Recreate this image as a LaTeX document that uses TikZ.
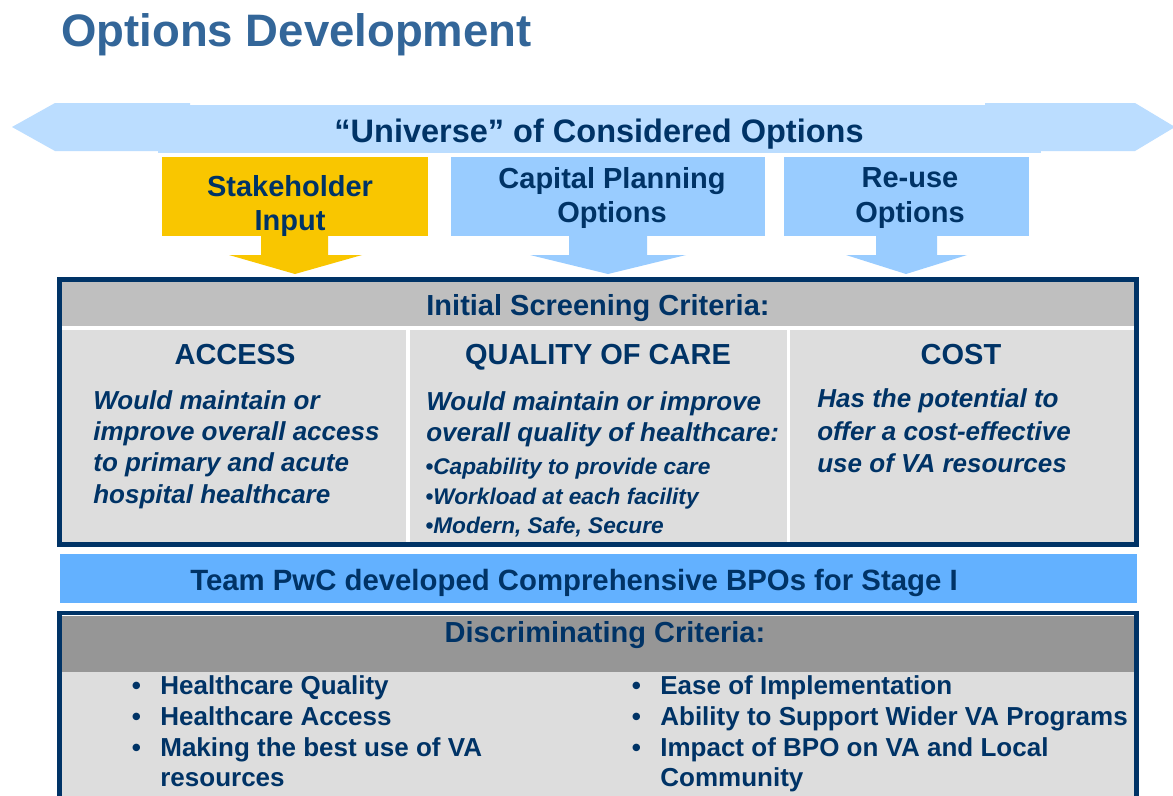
\documentclass[tikz,border=0pt]{standalone}
\usepackage{fontspec}
\setmainfont{Liberation Sans}
\usepackage{xcolor}
\usepackage{tikz}

\definecolor{navy}{RGB}{0,51,102}
\definecolor{titleblue}{RGB}{51,102,153}
\definecolor{bandblue}{RGB}{187,221,255}
\definecolor{optblue}{RGB}{153,204,255}
\definecolor{gold}{RGB}{249,198,0}
\definecolor{teamblue}{RGB}{99,177,255}
\definecolor{hdrgray}{RGB}{191,191,191}
\definecolor{cellgray}{RGB}{221,221,221}
\definecolor{discgray}{RGB}{150,150,150}

\newcommand{\critbullet}{\llap{\textbullet\hspace{11pt}}}

\begin{document}
\begin{tikzpicture}[x=0.02cm, y=-0.02cm,
    hdr/.style={font=\bfseries\fontsize{16.5}{19.8}\selectfont, text=navy, anchor=base, inner sep=0pt},
    crit/.style={font=\bfseries\itshape\fontsize{14.8}{17.8}\selectfont, text=navy, align=left, anchor=north west, inner sep=0pt},
    smallpts/.style={font=\bfseries\itshape\fontsize{12.9}{16.7}\selectfont, text=navy, align=left, anchor=north west, inner sep=0pt},
    item/.style={font=\bfseries\fontsize{14.8}{17.6}\selectfont, text=navy, align=left, anchor=north west, inner sep=0pt}]
    \clip (0,0) rectangle (1173,795);
    \fill[white] (0,0) rectangle (1173,795);

    % Title
    \node[font=\bfseries\fontsize{25.9}{30}\selectfont, text=titleblue, anchor=base west, inner sep=0pt] (title) at (61,46) {Options Development};

    % Universe band (two arrow ends and the middle strip)
    \fill[bandblue] (12,127) -- (55,103) -- (190,103) -- (190,151) -- (55,151) -- cycle;
    \fill[bandblue] (1175,127) -- (1135,103) -- (985,103) -- (985,151) -- (1135,151) -- cycle;
    \fill[bandblue] (158,105) rectangle (1041,153);
    \node[font=\bfseries\fontsize{18.5}{22}\selectfont, text=navy, anchor=base, inner sep=0pt] (universe) at (599,142) {“Universe” of Considered Options};

    % Stakeholder Input
    \fill[gold] (162,157) rectangle (428,236);
    \fill[gold] (261,235) -- (261,255) -- (229,255) -- (295,274) -- (362,255) -- (328,255) -- (328,235) -- cycle;
    \node[hdr, align=center, anchor=center] (stake) at (290,206) {Stakeholder\\Input};

    % Capital Planning Options
    \fill[optblue] (451,157) rectangle (765,236);
    \fill[optblue] (569,235) -- (569,255) -- (530,255) -- (608,274) -- (686,255) -- (647,255) -- (647,235) -- cycle;
    \node[hdr, align=center, anchor=center] (capital) at (612,198) {Capital Planning\\Options};

    % Re-use Options
    \fill[optblue] (784,157) rectangle (1029,236);
    \fill[optblue] (876,235) -- (876,255) -- (846,255) -- (906,274) -- (967,255) -- (937,255) -- (937,235) -- cycle;
    \node[hdr, align=center, anchor=center] (reuse) at (910,198) {Re-use\\Options};

    % Initial screening panel
    \fill[white] (59.5,279.5) rectangle (1136.5,544.5);
    \fill[hdrgray] (62,282) rectangle (1134,326);
    \fill[cellgray] (62,330) rectangle (406,542);
    \fill[cellgray] (410,330) rectangle (787,542);
    \fill[cellgray] (790,330) rectangle (1134,542);
    \draw[navy, line width=2.8pt] (59.5,279.5) rectangle (1136.5,544.5);
    \node[hdr] (screen) at (598,315) {Initial Screening Criteria:};

    \node[hdr] (access) at (235,364) {ACCESS};
    \node[crit] (accesstxt) at (93,390) {Would maintain or\\improve overall access\\to primary and acute\\hospital healthcare};

    \node[hdr] (quality) at (598,364) {QUALITY OF CARE};
    \node[crit] (qualitytxt) at (426,391) {Would maintain or improve\\overall quality of healthcare:};
    \node[smallpts] (qualitypts) at (425,458) {\textbullet Capability to provide care\\\textbullet Workload at each facility\\\textbullet Modern, Safe, Secure};

    \node[hdr] (cost) at (961,364) {COST};
    \node[crit, font=\bfseries\itshape\fontsize{14.8}{18.7}\selectfont] (costtxt) at (817,388) {Has the potential to\\offer a cost-effective\\use of VA resources};

    % Team PwC strip
    \fill[teamblue] (60,554) rectangle (1137,603);
    \node[hdr, font=\bfseries\fontsize{16.7}{19.8}\selectfont] (team) at (574,590) {Team PwC developed Comprehensive BPOs for Stage I};

    % Discriminating criteria panel
    \fill[discgray] (62,615.5) rectangle (1134,672);
    \fill[cellgray] (62,672) rectangle (1134,810);
    \draw[navy, line width=2.8pt] (59.5,613) rectangle (1136.5,820);
    \node[hdr] (disc) at (605,642) {Discriminating Criteria:};

    \node[item] (discleft) at (160,675) {\critbullet Healthcare Quality\\\critbullet Healthcare Access\\\critbullet Making the best use of VA\\resources};
    \node[item] (discright) at (660,675) {\critbullet Ease of Implementation\\\critbullet Ability to Support Wider VA Programs\\\critbullet Impact of BPO on VA and Local\\Community};
\end{tikzpicture}
\end{document}
